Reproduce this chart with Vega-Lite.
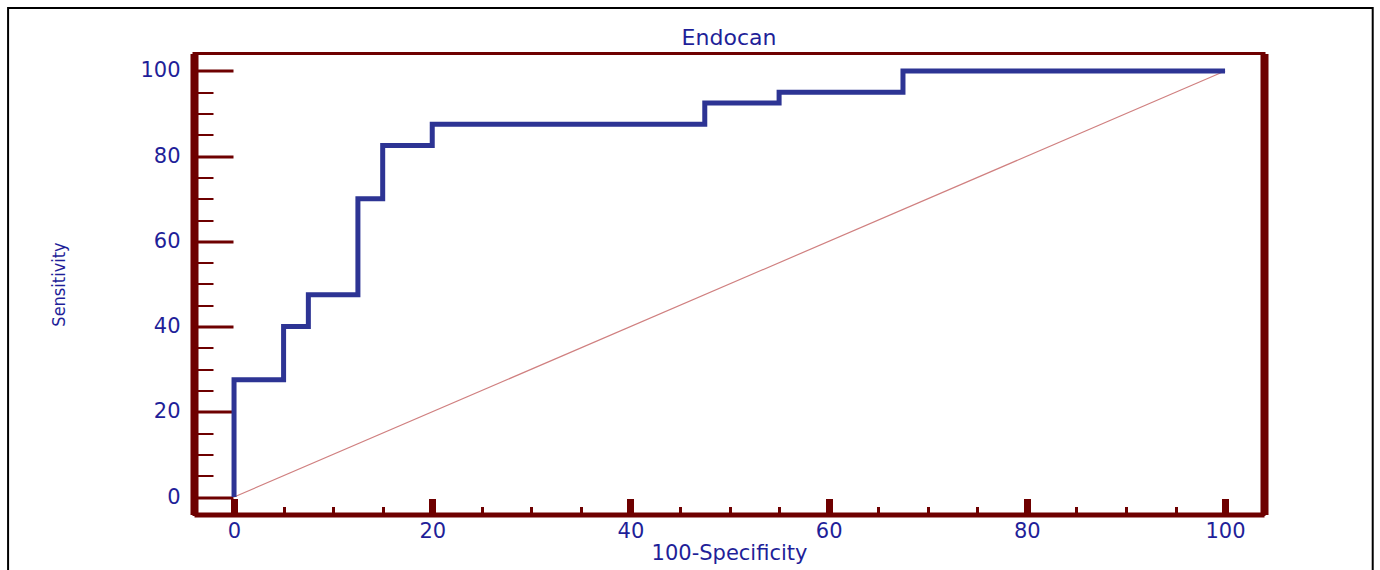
{
  "$schema": "https://vega.github.io/schema/vega-lite/v6.json",
  "width": 1070,
  "height": 461,
  "autosize": {"type": "none"},
  "padding": {"left": 194, "top": 53.5, "right": 116, "bottom": 55.5},
  "background": "white",
  "title": {"text": "Endocan", "font": "DejaVu Sans", "fontSize": 22, "fontWeight": "normal", "color": "#1f1f99", "baseline": "alphabetic", "offset": 0, "dy": 60, "anchor": "middle"},
  "config": {"view": {"stroke": "#6e0000", "strokeWidth": 3}},
  "datasets": {
    "roc": [
      {"i": 0, "fpr": 0, "sens": 0},
      {"i": 1, "fpr": 0, "sens": 27.5},
      {"i": 2, "fpr": 5, "sens": 27.5},
      {"i": 3, "fpr": 5, "sens": 40},
      {"i": 4, "fpr": 7.5, "sens": 40},
      {"i": 5, "fpr": 7.5, "sens": 47.5},
      {"i": 6, "fpr": 12.5, "sens": 47.5},
      {"i": 7, "fpr": 12.5, "sens": 70},
      {"i": 8, "fpr": 15, "sens": 70},
      {"i": 9, "fpr": 15, "sens": 82.5},
      {"i": 10, "fpr": 20, "sens": 82.5},
      {"i": 11, "fpr": 20, "sens": 87.5},
      {"i": 12, "fpr": 47.5, "sens": 87.5},
      {"i": 13, "fpr": 47.5, "sens": 92.5},
      {"i": 14, "fpr": 55, "sens": 92.5},
      {"i": 15, "fpr": 55, "sens": 95},
      {"i": 16, "fpr": 67.5, "sens": 95},
      {"i": 17, "fpr": 67.5, "sens": 100},
      {"i": 18, "fpr": 100, "sens": 100}
    ],
    "diag": [
      {"fpr": 0, "sens": 0},
      {"fpr": 100, "sens": 100}
    ]
  },
  "encoding": {
    "x": {"type": "quantitative", "scale": {"domain": [-4.04, 103.93], "nice": false, "zero": false},
      "axis": {
        "orient": "bottom",
        "values": [0, 5, 10, 15, 20, 25, 30, 35, 40, 45, 50, 55, 60, 65, 70, 75, 80, 85, 90, 95, 100],
        "labelExpr": "datum.value % 20 === 0 ? datum.label : ''",
        "tickSize": {"condition": {"test": "datum.value % 20 === 0", "value": -16}, "value": -8},
        "tickWidth": {"condition": {"test": "datum.value % 20 === 0", "value": 7}, "value": 3},
        "tickColor": "#6e0000",
        "domainColor": "#6e0000",
        "domainWidth": 5,
        "labelPadding": 22,
        "labelFont": "DejaVu Sans",
        "labelFontSize": 21,
        "labelColor": "#1f1f99",
        "labelOverlap": false,
        "labelFlush": false,
        "grid": false,
        "title": "100-Specificity",
        "titleFont": "DejaVu Sans",
        "titleFontSize": 21,
        "titleFontWeight": "normal",
        "titleColor": "#1f1f99",
        "titleBaseline": "alphabetic",
        "titleY": 45
      }
    }
  },
  "layer": [
    {
      "data": {"values": [{}]},
      "mark": {"type": "rect", "filled": false, "stroke": "black", "strokeWidth": 2, "clip": false},
      "encoding": {
        "x": {"datum": -22.8, "type": "quantitative"},
        "x2": {"datum": 114.9},
        "y": {"datum": 114.8, "type": "quantitative", "scale": {"domain": [-4.1, 104.1], "nice": false, "zero": false}, "axis": null},
        "y2": {"datum": -18.5}
      }
    },
    {
      "data": {"name": "diag"},
      "mark": {"type": "line", "color": "#d08080", "strokeWidth": 1.2},
      "encoding": {
        "x": {"field": "fpr", "type": "quantitative"},
        "y": {"field": "sens", "type": "quantitative", "scale": {"domain": [-4.1, 104.1], "nice": false, "zero": false},
          "axis": {"orient": "right", "domain": true, "domainColor": "#6e0000", "domainWidth": 8, "ticks": false, "labels": false, "grid": false, "title": null}}
      }
    },
    {
      "data": {"name": "roc"},
      "mark": {"type": "line", "color": "#2d3494", "strokeWidth": 5, "strokeJoin": "miter"},
      "encoding": {
        "order": {"field": "i", "type": "quantitative"},
        "x": {"field": "fpr", "type": "quantitative"},
        "y": {"field": "sens", "type": "quantitative", "scale": {"domain": [-4.1, 104.1], "nice": false, "zero": false},
          "axis": {
            "orient": "left",
            "values": [0, 5, 10, 15, 20, 25, 30, 35, 40, 45, 50, 55, 60, 65, 70, 75, 80, 85, 90, 95, 100],
            "labelExpr": "datum.value % 20 === 0 ? datum.label : ''",
            "tickSize": {"condition": {"test": "datum.value % 20 === 0", "value": -39}, "value": -19},
            "tickWidth": {"condition": {"test": "datum.value % 20 === 0", "value": 3}, "value": 2},
            "tickColor": "#6e0000",
            "domainColor": "#6e0000",
            "domainWidth": 8,
            "labelPadding": 53,
            "labelFont": "DejaVu Sans",
            "labelFontSize": 21,
            "labelColor": "#1f1f99",
            "labelOverlap": false,
            "labelFlush": false,
            "grid": false,
            "title": "Sensitivity",
            "titleFont": "Liberation Sans Narrow, DejaVu Sans Condensed, sans-serif",
            "titleFontSize": 18,
            "titleFontWeight": "normal",
            "titleColor": "#1f1f99",
            "titleBaseline": "middle",
            "titleAlign": "center",
            "titleX": -135,
            "titleY": 230.5
          }
        }
      }
    }
  ],
  "resolve": {"axis": {"y": "independent"}}
}
